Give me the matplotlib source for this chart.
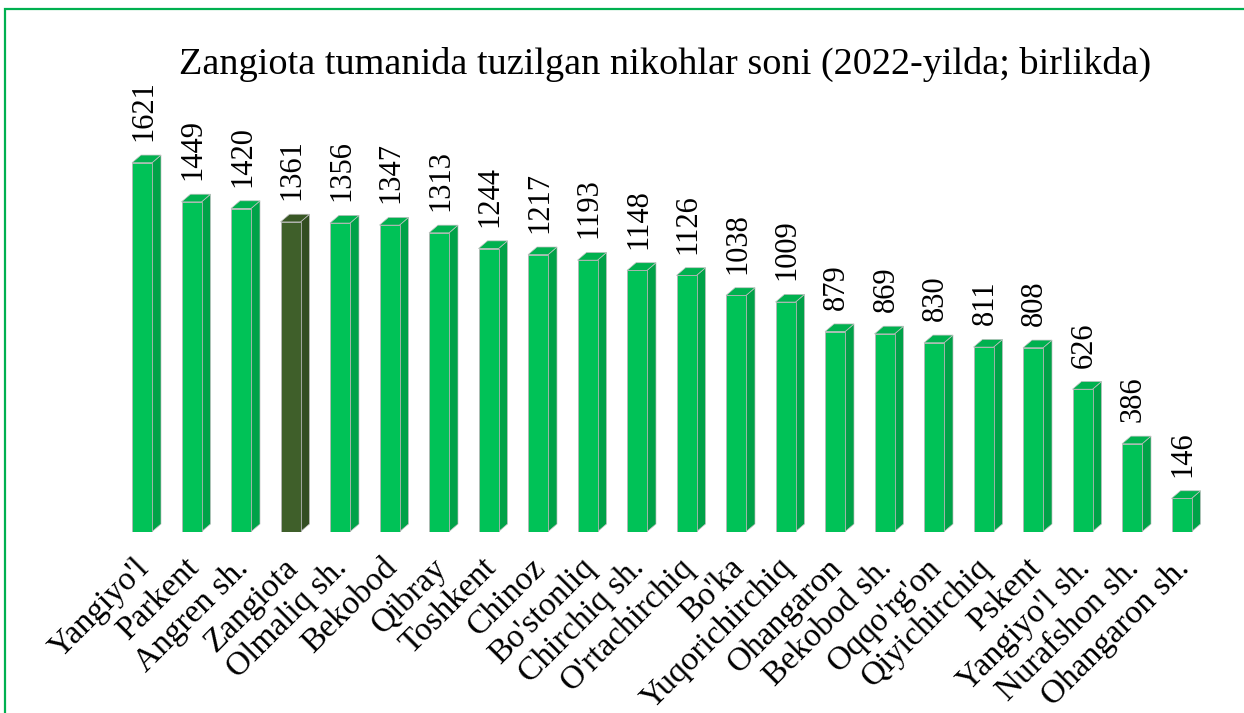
import numpy as np
import matplotlib
matplotlib.use("Agg")
import matplotlib.pyplot as plt
from matplotlib.patches import Polygon, Rectangle

# data
districts = ["Yangiyo'l", "Parkent", "Angren sh.", "Zangiota", "Olmaliq sh.", "Bekobod",
             "Qibray", "Toshkent", "Chinoz", "Bo'stonliq", "Chirchiq sh.", "O'rtachirchiq",
             "Bo'ka", "Yuqorichirchiq", "Ohangaron", "Bekobod sh.", "Oqqo'rg'on",
             "Qiyichirchiq", "Pskent", "Yangiyo'l sh.", "Nurafshon sh.", "Ohangaron sh."]
marriages = [1621, 1449, 1420, 1361, 1356, 1347, 1313, 1244, 1217, 1193, 1148, 1126,
             1038, 1009, 879, 869, 830, 811, 808, 626, 386, 146]
highlight = "Zangiota"

plt.rcParams['font.family'] = ['Liberation Serif', 'DejaVu Serif']

W, H = 1244, 713
fig = plt.figure(figsize=(W / 100, H / 100), dpi=100)

# outer green frame (only left/top visible in the reference)
fig.patches.append(Rectangle((5 / W, -0.1), 1.2, 1 - 9 / H + 0.1, transform=fig.transFigure,
                             fill=False, edgecolor='#00B050', linewidth=1.6))

# axes geometry in pixels
step = 49.5
x0 = 142.0
base_px = 531.7
scale = 0.2276  # px per unit
ytop = 2000
ax = fig.add_axes([(x0 - step / 2) / W, 1 - base_px / H, len(districts) * step / W, ytop * scale / H])
ax.set_xlim(-0.5, len(districts) - 0.5)
ax.set_ylim(0, ytop)
for s in ax.spines.values():
    s.set_visible(False)
ax.set_yticks([])

bw = 20 / step
dx = 9 / step
dy = 7.7 / scale
x = np.arange(len(districts))

front_c = ['#3F5F2A' if d == highlight else '#00C257' for d in districts]
side_c = ['#324D21' if d == highlight else '#00A248' for d in districts]
top_c = ['#395725' if d == highlight else '#00B14F' for d in districts]

ax.bar(x, marriages, width=bw, color=front_c, edgecolor='#b5b5b5', linewidth=0.6, zorder=3)
for i, v in enumerate(marriages):
    l, r = i - bw / 2, i + bw / 2
    ax.add_patch(Polygon([(r, 0), (r + dx, dy), (r + dx, v + dy), (r, v)], closed=True,
                         facecolor=side_c[i], edgecolor='#c0c0c0', linewidth=0.5, zorder=2))
    ax.add_patch(Polygon([(l, v), (r, v), (r + dx, v + dy), (l + dx, v + dy)], closed=True,
                         facecolor=top_c[i], edgecolor='#c0c0c0', linewidth=0.5, zorder=2))
    ax.text(i + 0.03, v + dy + 14 / scale, str(v), rotation=90, ha='center', va='bottom',
            fontsize=22, color='black')

ax.set_xticks(x - 0.16)
ax.set_xticklabels(districts, rotation=45, ha='right', va='top', rotation_mode='anchor',
                   fontsize=24)
ax.tick_params(axis='x', length=0, pad=15)

fig.text(665 / W, 1 - 74 / H, "Zangiota tumanida tuzilgan nikohlar soni (2022-yilda; birlikda)",
         ha='center', va='baseline', fontsize=27.5)

fig.savefig('out.png', dpi=100, facecolor='white')
